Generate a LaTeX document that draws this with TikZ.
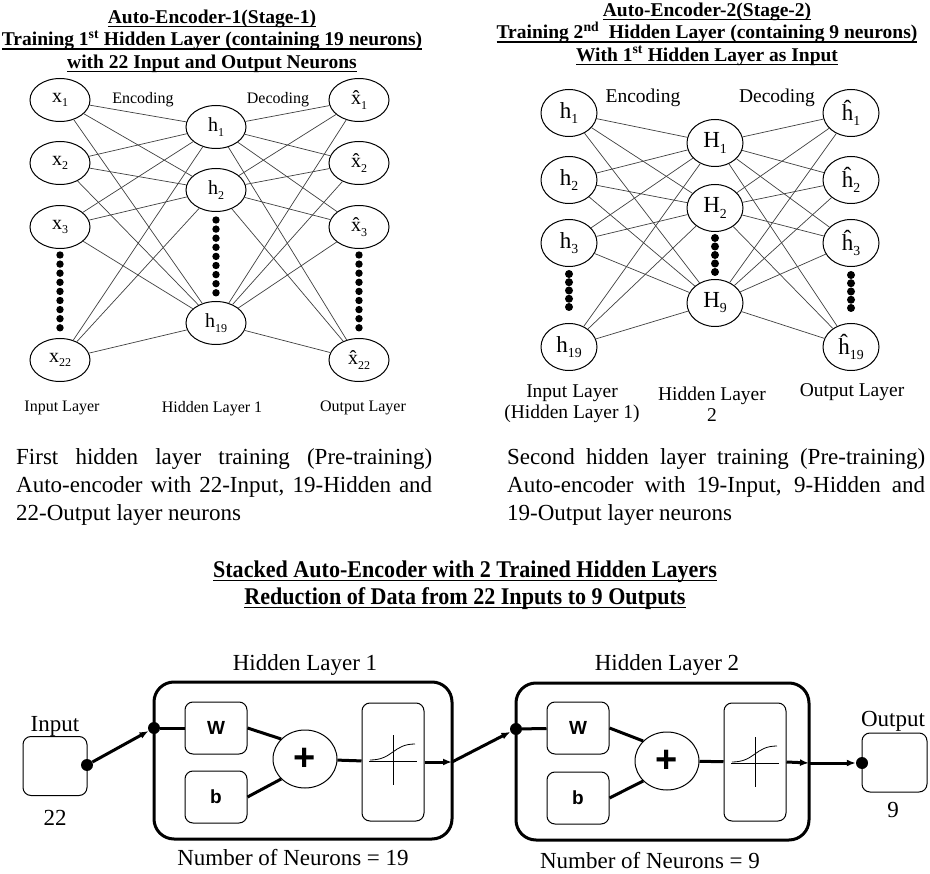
\documentclass[tikz,border=0pt]{standalone}
\usepackage{fontspec}
\setmainfont{Liberation Serif}
\setsansfont{Liberation Sans}
\newfontfamily\narrowserif{Liberation Serif}[FakeStretch=0.92]
\usepackage{graphicx}
\usepackage{tikz}
\usetikzlibrary{positioning,shapes.geometric,arrows.meta}

\newcommand{\ulbar}[1]{\leavevmode\setbox0\hbox{#1}\rlap{\vrule width\wd0 height -2.5pt depth 4pt}\box0}
\newcommand{\lo}[1]{\raisebox{-0.22em}{\scalebox{0.6}{#1}}}

\begin{document}
\begin{tikzpicture}[x=1pt, y=-1pt, >={Latex[length=9pt,width=7pt]},
  neuron/.style={ellipse, draw, line width=1pt, inner sep=0pt, minimum width=60pt, minimum height=43pt, font=\fontsize{20}{20}\selectfont},
  bigneuron/.style={ellipse, draw, line width=1pt, inner sep=0pt, minimum width=56pt, minimum height=47pt, font=\fontsize{23}{23}\selectfont},
  link/.style={line width=0.7pt, black!75},
  small/.style={inner sep=0pt, font=\fontsize{16}{19}\selectfont},
  mid/.style={inner sep=0pt, align=center, font=\fontsize{19.5}{21}\selectfont},
  lab/.style={inner sep=0pt, font=\fontsize{23}{28}\selectfont},
  heading/.style={inner sep=0pt, align=center, font=\fontsize{19.5}{22.5}\selectfont\bfseries},
  layerbox/.style={draw, rounded corners=20pt, line width=3pt, minimum width=295pt, minimum height=157pt},
  wbbox/.style={draw, rounded corners=8pt, line width=1pt, minimum width=62pt, minimum height=52pt, inner sep=0pt, font=\fontsize{19}{19}\selectfont\sffamily\bfseries},
  actbox/.style={draw, rounded corners=8pt, line width=1pt, minimum width=62pt, minimum height=118pt},
  iobox/.style={draw, rounded corners=8pt, line width=1pt, minimum width=64pt, minimum height=59pt},
  sumnode/.style={ellipse, draw, line width=1pt, inner sep=0pt, minimum width=64pt, minimum height=58pt, font=\fontsize{38}{38}\selectfont\sffamily\bfseries},
  dot/.style={circle, fill, inner sep=0pt, minimum size=12pt},
  wire/.style={line width=3pt}]
  \path[use as bounding box, fill=white] (0,0) rectangle (930,874);

  % stage 1
  \node (head1) at (212,41) [heading] {\ulbar{Auto-Encoder-1(Stage-1)}\\
    \ulbar{Training 1\textsuperscript{st} Hidden Layer (containing 19 neurons)}\\
    \ulbar{with 22 Input and Output Neurons}};
  \node (x1) at (60,100) [neuron] {x\lo{1}};
  \node (x2) at (60,163) [neuron] {x\lo{2}};
  \node (x3) at (60,227) [neuron] {x\lo{3}};
  \node (x22) at (60,360) [neuron] {x\lo{22}};
  \node (h1) at (216,127) [neuron] {h\lo{1}};
  \node (h2) at (216,190) [neuron] {h\lo{2}};
  \node (h19) at (216,323) [neuron] {h\lo{19}};
  \node (xh1) at (359,100) [neuron] {\^{x}\lo{1}};
  \node (xh2) at (359,163) [neuron] {\^{x}\lo{2}};
  \node (xh3) at (359,227) [neuron] {\^{x}\lo{3}};
  \node (xh22) at (359,360) [neuron] {\^{x}\lo{22}};
  \foreach \a in {x1,x2,x3,x22}
    \foreach \b in {h1,h2,h19} \draw[link] (\a) -- (\b);
  \foreach \a in {h1,h2,h19}
    \foreach \b in {xh1,xh2,xh3,xh22} \draw[link] (\a) -- (\b);
  \foreach \k in {0,...,8} {
    \fill (60,255+9.1*\k) circle (3.7pt);
    \fill (216,220+9.1*\k) circle (3.7pt);
    \fill (359,255+9.1*\k) circle (3.7pt);
  }
  \node (enc1) at (143,100) [small] {Encoding};
  \node (dec1) at (278,100) [small] {Decoding};
  \node (inl1) at (62,408) [small] {Input Layer};
  \node (hidl1) at (212,409) [small] {Hidden Layer 1};
  \node (outl1) at (363,408) [small] {Output Layer};

  % stage 2
  \node (head2) at (707,34) [heading] {\ulbar{Auto-Encoder-2(Stage-2)}\\
    \ulbar{Training 2\textsuperscript{nd}\ \ Hidden Layer (containing 9 neurons)}\\
    \ulbar{With 1\textsuperscript{st} Hidden Layer as Input}};
  \node (g1) at (569,113) [bigneuron] {h\lo{1}};
  \node (g2) at (569,180) [bigneuron] {h\lo{2}};
  \node (g3) at (569,243) [bigneuron] {h\lo{3}};
  \node (g19) at (569,347) [bigneuron] {h\lo{19}};
  \node (H1) at (715,143) [bigneuron] {H\lo{1}};
  \node (H2) at (715,208) [bigneuron] {H\lo{2}};
  \node (H9) at (715,303) [bigneuron] {H\lo{9}};
  \node (gh1) at (851,113) [bigneuron] {\^{h}\lo{1}};
  \node (gh2) at (851,180) [bigneuron] {\^{h}\lo{2}};
  \node (gh3) at (851,243) [bigneuron] {\^{h}\lo{3}};
  \node (gh19) at (851,347) [bigneuron] {\^{h}\lo{19}};
  \foreach \a in {g1,g2,g3,g19}
    \foreach \b in {H1,H2,H9} \draw[link] (\a) -- (\b);
  \foreach \a in {H1,H2,H9}
    \foreach \b in {gh1,gh2,gh3,gh19} \draw[link] (\a) -- (\b);
  \foreach \k in {0,...,4} {
    \fill (569,274+8.25*\k) circle (4pt);
    \fill (715,238+8.5*\k) circle (4pt);
    \fill (851,275+8.25*\k) circle (4pt);
  }
  \node (enc2) at (643,98) [mid] {Encoding};
  \node (dec2) at (777,98) [mid] {Decoding};
  \node (inl2) at (572,404) [mid] {Input Layer\\(Hidden Layer 1)};
  \node (hidl2) at (712,404) [mid] {Hidden Layer\\2};
  \node (outl2) at (852,392) [mid] {Output Layer};

  % captions
  \node (cap1) at (16,487.5) [lab, anchor=west, align=left]
    {\makebox[416pt][s]{First hidden layer training (Pre-training)}\\
     \makebox[416pt][s]{Auto-encoder with 22-Input, 19-Hidden and}\\
     22-Output layer neurons};
  \node (cap2) at (507,487.5) [lab, anchor=west, align=left]
    {\makebox[418pt][s]{Second hidden layer training (Pre-training)}\\
     \makebox[418pt][s]{Auto-encoder with 19-Input, 9-Hidden and}\\
     19-Output layer neurons};
  \node (head3) at (465,585) [inner sep=0pt, align=center, font=\fontsize{24}{27}\narrowserif\bfseries]
    {\ulbar{Stacked Auto-Encoder with 2 Trained Hidden Layers}\\
     \ulbar{Reduction of Data from 22 Inputs to 9 Outputs}};

  % stacked network
  \node (inbox) at (55,766) [iobox] {};
  \node (inlab) at (55,726) [lab] {Input};
  \node (insize) at (55,818) [lab] {22};
  \node (indot) at (87,765) [dot] {};

  \node (hl1) at (303,760.5) [layerbox, minimum width=298pt] {};
  \node (hl1lab) at (305,665) [lab] {Hidden Layer 1};
  \node (hl1num) at (293,858) [lab] {Number of Neurons = 19};
  \node (hl1dot) at (154,728) [dot] {};
  \node (w1) at (216,728) [wbbox] {W};
  \node (b1) at (216,797) [wbbox] {b};
  \node (sum1) at (305,759) [sumnode] {+};
  \node (act1) at (393,762) [actbox] {};
  \draw[line width=0.8pt] ([shift={(-24,-1)}]act1.center) -- ([shift={(24,-1)}]act1.center);
  \draw[line width=0.8pt] ([shift={(0,-27)}]act1.center) -- ([shift={(0,23)}]act1.center);
  \draw[line width=0.8pt] ([shift={(-23,-2)}]act1.center) .. controls ([shift={(0,-2)}]act1.center) and ([shift={(0,-18)}]act1.center) .. ([shift={(22,-18)}]act1.center);
  \coordinate (hl1out) at (452,762);

  \node (hl2) at (662.5,761.5) [layerbox, minimum width=293pt] {};
  \node (hl2lab) at (667,665) [lab] {Hidden Layer 2};
  \node (hl2num) at (650,861) [lab] {Number of Neurons = 9};
  \node (hl2dot) at (516,729) [dot] {};
  \node (w2) at (578,728) [wbbox] {W};
  \node (b2) at (578,798) [wbbox] {b};
  \node (sum2) at (667,761) [sumnode] {+};
  \node (act2) at (755,762) [actbox] {};
  \draw[line width=0.8pt] ([shift={(-24,1)}]act2.center) -- ([shift={(24,1)}]act2.center);
  \draw[line width=0.8pt] ([shift={(0,-25)}]act2.center) -- ([shift={(0,25)}]act2.center);
  \draw[line width=0.8pt] ([shift={(-23,0)}]act2.center) .. controls ([shift={(0,0)}]act2.center) and ([shift={(0,-16)}]act2.center) .. ([shift={(22,-16)}]act2.center);
  \coordinate (hl2out) at (809,763);

  \node (outbox) at (894.5,762.5) [iobox, minimum width=65pt] {};
  \node (outlab) at (893,721) [lab] {Output};
  \node (outsize) at (893,810) [lab] {9};
  \node (outdot) at (862,763) [dot] {};

  \draw[wire,->] (indot) -- (hl1dot);
  \draw[wire] (hl1dot) -- (w1);
  \draw[wire] (w1.east) -- (sum1.140);
  \draw[wire] (b1.east) -- (sum1.220);
  \draw[wire] (sum1) -- (act1);
  \draw[wire,->] (act1.east) -- (hl1out);
  \draw[wire,->] (hl1out) -- (hl2dot);
  \draw[wire] (hl2dot) -- (w2);
  \draw[wire] (w2.east) -- (sum2.140);
  \draw[wire] (b2.east) -- (sum2.220);
  \draw[wire] (sum2) -- (act2);
  \draw[wire,->] (act2.east) -- (hl2out);
  \draw[wire,->] (hl2out) -- (outdot);
\end{tikzpicture}
\end{document}
